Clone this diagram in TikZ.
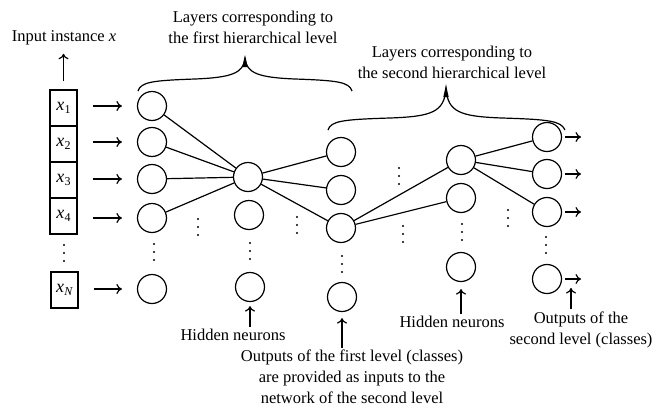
\documentclass[tikz,border=0pt]{standalone}
\usepackage{fontspec}
\setmainfont{Liberation Serif}
\usetikzlibrary{arrows.meta}
\newcommand{\xsub}[1]{\textit{x}\kern0.3pt\raisebox{-0.4ex}{\fontsize{12}{12}\selectfont #1}}
\newcommand{\threedots}[2]{\foreach \dd in {-8,0,8} {\fill (#1,#2+\dd) circle (1.1pt);}}
\begin{document}
\begin{tikzpicture}[x=1pt,y=-1pt, line width=1.2pt,
 neuron/.style={draw, circle, minimum size=29pt, inner sep=0pt},
 inbox/.style={draw, minimum width=27pt, minimum height=36pt, inner sep=0pt, font=\fontsize{18}{18}\selectfont},
 lbl/.style={font=\fontsize{16.5}{21}\selectfont, align=center, inner sep=0pt},
 arr/.style={-{To[length=5.5pt,width=10pt]}},
 brace/.style={line width=1.2pt}
 ]
\useasboundingbox (0,0) rectangle (659,410);

% input boxes
\node[inbox] (b1) at (63.5,108) {\xsub{1}};
\node[inbox] (b2) at (63.5,144) {\xsub{2}};
\node[inbox] (b3) at (63.5,180) {\xsub{3}};
\node[inbox] (b4) at (63.5,216) {\xsub{4}};
\node[inbox] (bN) at (64.5,290) {\xsub{\textit{N}}};

% input layer
\node[neuron] (i1) at (152,106) {};
\node[neuron] (i2) at (152,142) {};
\node[neuron] (i3) at (152,179) {};
\node[neuron] (i4) at (152,218) {};
\node[neuron] (iN) at (152,289) {};

% hidden 1
\node[neuron] (h1) at (248,177) {};
\node[neuron] (h2) at (249,215) {};
\node[neuron] (h3) at (250,287) {};

% outputs level 1
\node[neuron] (o1) at (341,152) {};
\node[neuron] (o2) at (341,190) {};
\node[neuron] (o3) at (341,228) {};
\node[neuron] (o4) at (342,297) {};

% hidden 2
\node[neuron] (g1) at (461,160) {};
\node[neuron] (g2) at (461,198) {};
\node[neuron] (g3) at (461,267) {};

% outputs level 2
\node[neuron] (p1) at (547,137) {};
\node[neuron] (p2) at (547,174) {};
\node[neuron] (p3) at (547,212) {};
\node[neuron] (p4) at (547,279) {};

% arrows from boxes
\foreach \b/\i in {b1/i1,b2/i2,b3/i3,b4/i4,bN/iN}
  \draw[arr, shorten <=15pt, shorten >=15pt] (\b.east |- \i) -- (\i);

% links
\foreach \i in {i1,i2,i3,i4} \draw (\i) -- (h1);
\foreach \o in {o1,o2,o3} \draw (h1) -- (\o);
\foreach \g in {g1,g2} \draw (o3) -- (\g);
\foreach \p in {p1,p2,p3} \draw (g1) -- (\p);

% output arrows
\coordinate (q1) at (581,137);
\coordinate (q2) at (581,174);
\coordinate (q3) at (581,212);
\coordinate (q4) at (581,279);
\foreach \p/\q in {p1/q1,p2/q2,p3/q3,p4/q4}
  \draw[arr, shorten <=3pt] (\p) -- (\q);

% dots
\threedots{64}{253}
\threedots{154}{252}
\threedots{198}{227}
\threedots{250}{251}
\threedots{297}{225}
\threedots{342}{264}
\threedots{399}{176}
\threedots{403}{234}
\threedots{462}{232}
\threedots{508}{218}
\threedots{546}{245}

% braces
\draw[brace] (138,91) .. controls (141,82) and (152,80.5) .. (195,79) .. controls (232,77.5) and (243,73) .. (245,59)
  .. controls (247,73) and (258,77.5) .. (295,79) .. controls (338,80.5) and (349,82) .. (352,91);
\fill (245,55) -- (242.3,67) -- (247.7,67) -- cycle;
\draw[brace] (328,130) .. controls (331,121) and (342,119.5) .. (390,118) .. controls (432,116.5) and (444,112) .. (446,89)
  .. controls (448,112) and (460,116.5) .. (502,118) .. controls (550,119.5) and (561,121) .. (565,130);
\fill (446,85) -- (443.3,97) -- (448.7,97) -- cycle;

% labels
\node[lbl] (inp) at (64,38) {Input instance \textit{x}};
\node[lbl] (t1) at (253,27.5) {Layers corresponding to\\the first hierarchical level};
\node[lbl] (t2) at (452,62.5) {Layers corresponding to\\the second hierarchical level};
\node[lbl] (hn1) at (233,335) {Hidden neurons};
\node[lbl] (ol1) at (352,377) {Outputs of the first level (classes)\\are provided as inputs to the\\network of the second level};
\node[lbl] (hn2) at (452,322) {Hidden neurons};
\node[lbl] (ol2) at (581,330) {Outputs of the\\second level (classes)};

% label arrows
\draw[arr, shorten <=8pt, shorten >=8pt] (b1.north) -- (inp.south -| b1);
\draw[arr, shorten <=2pt, shorten >=4pt] (hn1.north -| h3) -- (h3);
\draw[arr, shorten <=2pt, shorten >=6pt] (ol1.north -| o4) -- (o4);
\draw[arr, shorten <=2pt, shorten >=7pt] (hn2.north -| g3) -- (g3);
\coordinate (r4) at (571,288);
\draw[arr, shorten <=2pt] (ol2.north -| r4) -- (r4);
\end{tikzpicture}
\end{document}
